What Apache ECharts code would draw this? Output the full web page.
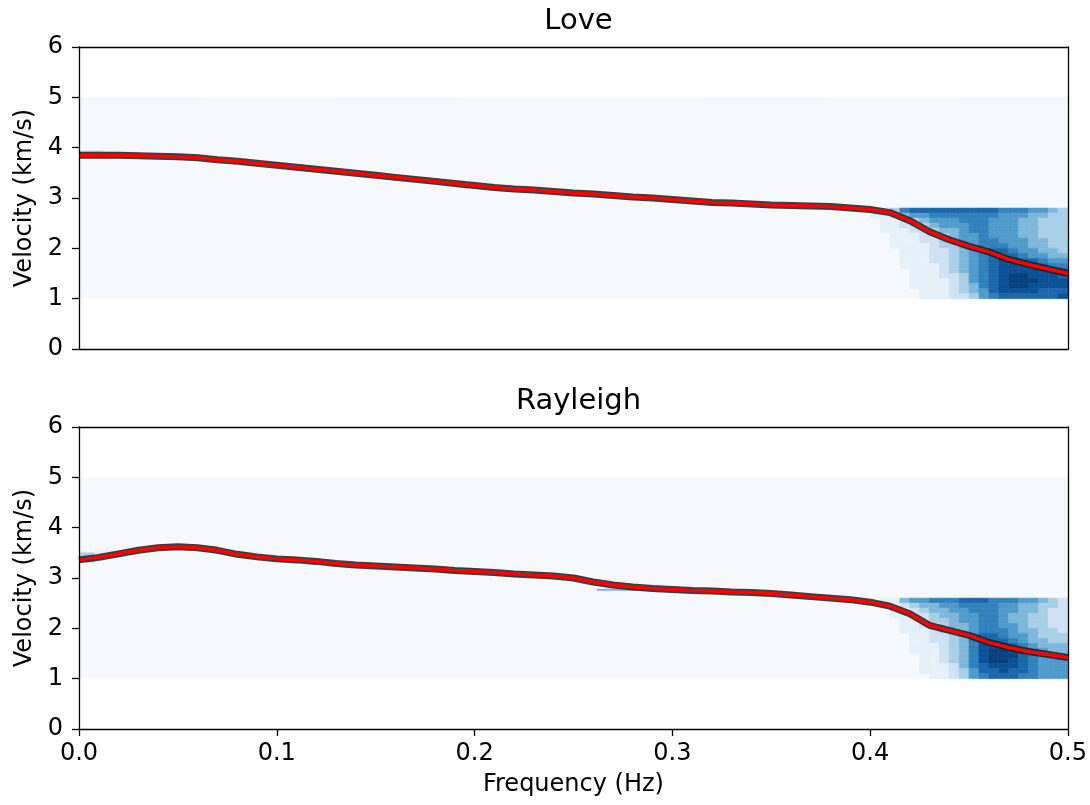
<!DOCTYPE html>
<html>
<head>
<meta charset="utf-8">
<script src="https://cdn.jsdelivr.net/npm/echarts@6/dist/echarts.min.js"></script>
<style>
  html, body { margin: 0; padding: 0; background: #ffffff; }
  #chart { width: 1090px; height: 805px; }
</style>
</head>
<body>
<div id="chart"></div>
<script>
// ---- data -------------------------------------------------------------
const panelTitles = ['Love', 'Rayleigh'];
const freqTickLabels = ['0.0', '0.1', '0.2', '0.3', '0.4', '0.5'];
const velocityTickLabels = ['0', '1', '2', '3', '4', '5', '6'];

// picked dispersion curves (frequency in Hz, velocity in km/s)
const freqSamples = [
  0.00, 0.01, 0.02, 0.03, 0.04, 0.05, 0.06, 0.07, 0.08, 0.09,
  0.10, 0.11, 0.12, 0.13, 0.14, 0.15, 0.16, 0.17, 0.18, 0.19,
  0.20, 0.21, 0.22, 0.23, 0.24, 0.25, 0.26, 0.27, 0.28, 0.29,
  0.30, 0.31, 0.32, 0.33, 0.34, 0.35, 0.36, 0.37, 0.38, 0.39,
  0.40, 0.41, 0.42, 0.43, 0.44, 0.45, 0.46, 0.47, 0.48, 0.49, 0.50
];
const loveVelocity = [
  3.85, 3.85, 3.85, 3.84, 3.83, 3.82, 3.80, 3.76, 3.73, 3.69,
  3.65, 3.61, 3.57, 3.53, 3.49, 3.45, 3.41, 3.37, 3.33, 3.29,
  3.25, 3.21, 3.18, 3.16, 3.13, 3.10, 3.08, 3.05, 3.02, 3.00,
  2.97, 2.94, 2.91, 2.90, 2.88, 2.86, 2.85, 2.84, 2.83, 2.80,
  2.77, 2.71, 2.55, 2.33, 2.17, 2.04, 1.93, 1.78, 1.68, 1.59, 1.50
];
const rayleighVelocity = [
  3.36, 3.41, 3.48, 3.55, 3.60, 3.62, 3.60, 3.55, 3.47, 3.42,
  3.38, 3.36, 3.33, 3.29, 3.26, 3.24, 3.22, 3.20, 3.18, 3.15,
  3.13, 3.11, 3.08, 3.06, 3.04, 3.00, 2.92, 2.86, 2.82, 2.79,
  2.77, 2.75, 2.74, 2.72, 2.71, 2.69, 2.66, 2.63, 2.60, 2.57,
  2.52, 2.44, 2.29, 2.06, 1.96, 1.86, 1.72, 1.62, 1.54, 1.48, 1.42
];

// extent of the energy image: [fMin, fMax, vMin, vMax]
const fieldBounds = [0, 0.5, 1, 5];

// high-frequency energy, one digit (0-9) per 0.005 Hz x 0.1 km/s cell,
// columns start at 0.400 Hz, rows run downward from the given top velocity
const heatFreqStart = 0.40;
const heatFreqStep = 0.005;
const heatVelStep = 0.1;

const loveHeatTop = 2.8;
const loveHeatRows = [
  '12367777777776665543',
  '11245566666665554433',
  '01123455566655544333',
  '01122345556655544333',
  '01112234456655544333',
  '00111223455655544333',
  '00111223455665554433',
  '00111123345666554433',
  '00011122345677655443',
  '00011122345677765544',
  '00011122345678877655',
  '00011112345678888766',
  '00001112345678888877',
  '00001112235678998887',
  '00001111235678999888',
  '00001111234678998888',
  '00000111234578888777',
  '00000111223567777778'
];

const rayleighHeatTop = 2.6;
const rayleighHeatRows = [
  '01145566677766655432',
  '01123445566665544332',
  '00112344556665544322',
  '00112234455665443322',
  '00011233455665443322',
  '00011223445665543322',
  '00011123345666544332',
  '00001122346776554333',
  '00001122346777654433',
  '00001112346888765444',
  '00001112346899876544',
  '00000112346899976554',
  '00000112346899876555',
  '00000111246788876555',
  '00000111235778776555',
  '00000011235677766555'
];

// isolated energy patches: [f0, f1, v0, v1, level]
const loveExtraCells = [
  [0.000, 0.012, 3.84, 3.94, 2],
  [0.012, 0.030, 3.86, 3.93, 1]
];
const rayleighExtraCells = [
  [0.000, 0.008, 3.32, 3.50, 3],
  [0.008, 0.022, 3.40, 3.55, 1],
  [0.262, 0.305, 2.75, 2.78, 4]
];

// ---- helpers ------------------------------------------------------------
// blue ramp, one colour per energy level (index 0 = empty field)
const LEVEL_COLORS = ['#f5f9fe', '#e6f0f9', '#cfe1f2', '#a8cfe5', '#7db8da',
                      '#4f9bcb', '#3181bd', '#1b67ab', '#0b5197', '#08407f'];

function levelColor(level) {
  const i = Math.max(0, Math.min(9, Math.round(level)));
  return LEVEL_COLORS[i];
}

function buildCells(top, rows, extra) {
  const cells = [[fieldBounds[0], fieldBounds[1], fieldBounds[2], fieldBounds[3], 0]];
  extra.forEach(c => cells.push(c));
  rows.forEach((row, r) => {
    const vHi = top - r * heatVelStep;
    const vLo = vHi - heatVelStep;
    for (let c = 0; c < row.length; c++) {
      const lvl = Number(row[c]);
      if (lvl === 0) continue;
      const f0 = heatFreqStart + c * heatFreqStep;
      cells.push([f0, f0 + heatFreqStep, vLo, vHi, lvl]);
    }
  });
  return cells;
}

function renderCell(params, api) {
  const p0 = api.coord([api.value(0), api.value(3)]);
  const p1 = api.coord([api.value(1), api.value(2)]);
  const color = levelColor(api.value(4));
  return {
    type: 'rect',
    shape: { x: p0[0], y: p0[1], width: p1[0] - p0[0], height: p1[1] - p0[1] },
    style: { fill: color, stroke: color, lineWidth: 0.6 }
  };
}

// ---- chart ----------------------------------------------------------------
const FONT = 'DejaVu Sans';
const TICK_SIZE = 24;
const plotLeft = 79, plotWidth = 989;
const gridTops = [47, 427];
const plotHeight = 302;

const grids = gridTops.map(t => ({
  left: plotLeft, top: t, width: plotWidth, height: plotHeight, containLabel: false
}));

const xAxes = [], yAxes = [];
[0, 1].forEach(g => {
  const isBottom = g === 1;
  xAxes.push({
    type: 'value', gridIndex: g, min: 0, max: 0.5, interval: 0.1, position: 'bottom', z: 10,
    axisLine: { show: true, onZero: false, lineStyle: { color: '#000', width: 1.3 } },
    axisTick: { show: isBottom, inside: false, length: 7, lineStyle: { color: '#000', width: 1.3 } },
    axisLabel: {
      show: isBottom, margin: 13, color: '#000', fontFamily: FONT, fontSize: TICK_SIZE,
      formatter: v => freqTickLabels[Math.round(v * 10)]
    },
    splitLine: { show: false },
    name: isBottom ? 'Frequency (Hz)' : '',
    nameLocation: 'middle', nameGap: 44,
    nameTextStyle: { color: '#000', fontFamily: FONT, fontSize: TICK_SIZE }
  });
  xAxes.push({
    type: 'value', gridIndex: g, min: 0, max: 0.5, position: 'top', z: 10,
    axisLine: { show: true, onZero: false, lineStyle: { color: '#000', width: 1.3 } },
    axisTick: { show: false }, axisLabel: { show: false }, splitLine: { show: false }
  });
  yAxes.push({
    type: 'value', gridIndex: g, min: 0, max: 6, interval: 1, position: 'left', z: 10,
    axisLine: { show: true, onZero: false, lineStyle: { color: '#000', width: 1.3 } },
    axisTick: { show: true, inside: false, length: 7, lineStyle: { color: '#000', width: 1.3 } },
    axisLabel: {
      margin: 16, color: '#000', fontFamily: FONT, fontSize: TICK_SIZE,
      formatter: v => velocityTickLabels[Math.round(v)]
    },
    splitLine: { show: false },
    name: 'Velocity (km/s)', nameLocation: 'middle', nameGap: 41,
    nameTextStyle: { color: '#000', fontFamily: FONT, fontSize: TICK_SIZE }
  });
  yAxes.push({
    type: 'value', gridIndex: g, min: 0, max: 6, position: 'right', z: 10,
    axisLine: { show: true, onZero: false, lineStyle: { color: '#000', width: 1.3 } },
    axisTick: { show: false }, axisLabel: { show: false }, splitLine: { show: false }
  });
});

const curves = [loveVelocity, rayleighVelocity];
const cellSets = [
  buildCells(loveHeatTop, loveHeatRows, loveExtraCells),
  buildCells(rayleighHeatTop, rayleighHeatRows, rayleighExtraCells)
];

const series = [];
[0, 1].forEach(g => {
  const pts = freqSamples.map((f, i) => [f, curves[g][i]]);
  series.push({
    type: 'custom', xAxisIndex: g * 2, yAxisIndex: g * 2, z: 1, clip: true,
    renderItem: renderCell, encode: { x: [0, 1], y: [2, 3] },
    data: cellSets[g], silent: true, animation: false
  });
  series.push({
    type: 'line', xAxisIndex: g * 2, yAxisIndex: g * 2, z: 3, data: pts, clip: true,
    showSymbol: false, symbol: 'none', animation: false, silent: true,
    lineStyle: { color: '#1c1c1c', width: 7, opacity: 0.85, join: 'round', cap: 'butt' }
  });
  series.push({
    type: 'line', xAxisIndex: g * 2, yAxisIndex: g * 2, z: 4, data: pts, clip: true,
    showSymbol: false, symbol: 'none', animation: false, silent: true,
    lineStyle: { color: '#ff0000', width: 3.5, join: 'round', cap: 'butt' }
  });
});

const chart = echarts.init(document.getElementById('chart'), null, { renderer: 'canvas' });
chart.setOption({
  animation: false,
  backgroundColor: '#ffffff',
  title: panelTitles.map((t, i) => ({
    text: t, left: plotLeft + plotWidth / 2, top: gridTops[i] - 45, textAlign: 'center',
    textStyle: { color: '#000', fontFamily: FONT, fontSize: 29, fontWeight: 'normal' }
  })),
  grid: grids,
  xAxis: xAxes,
  yAxis: yAxes,
  series: series
});
</script>
</body>
</html>
